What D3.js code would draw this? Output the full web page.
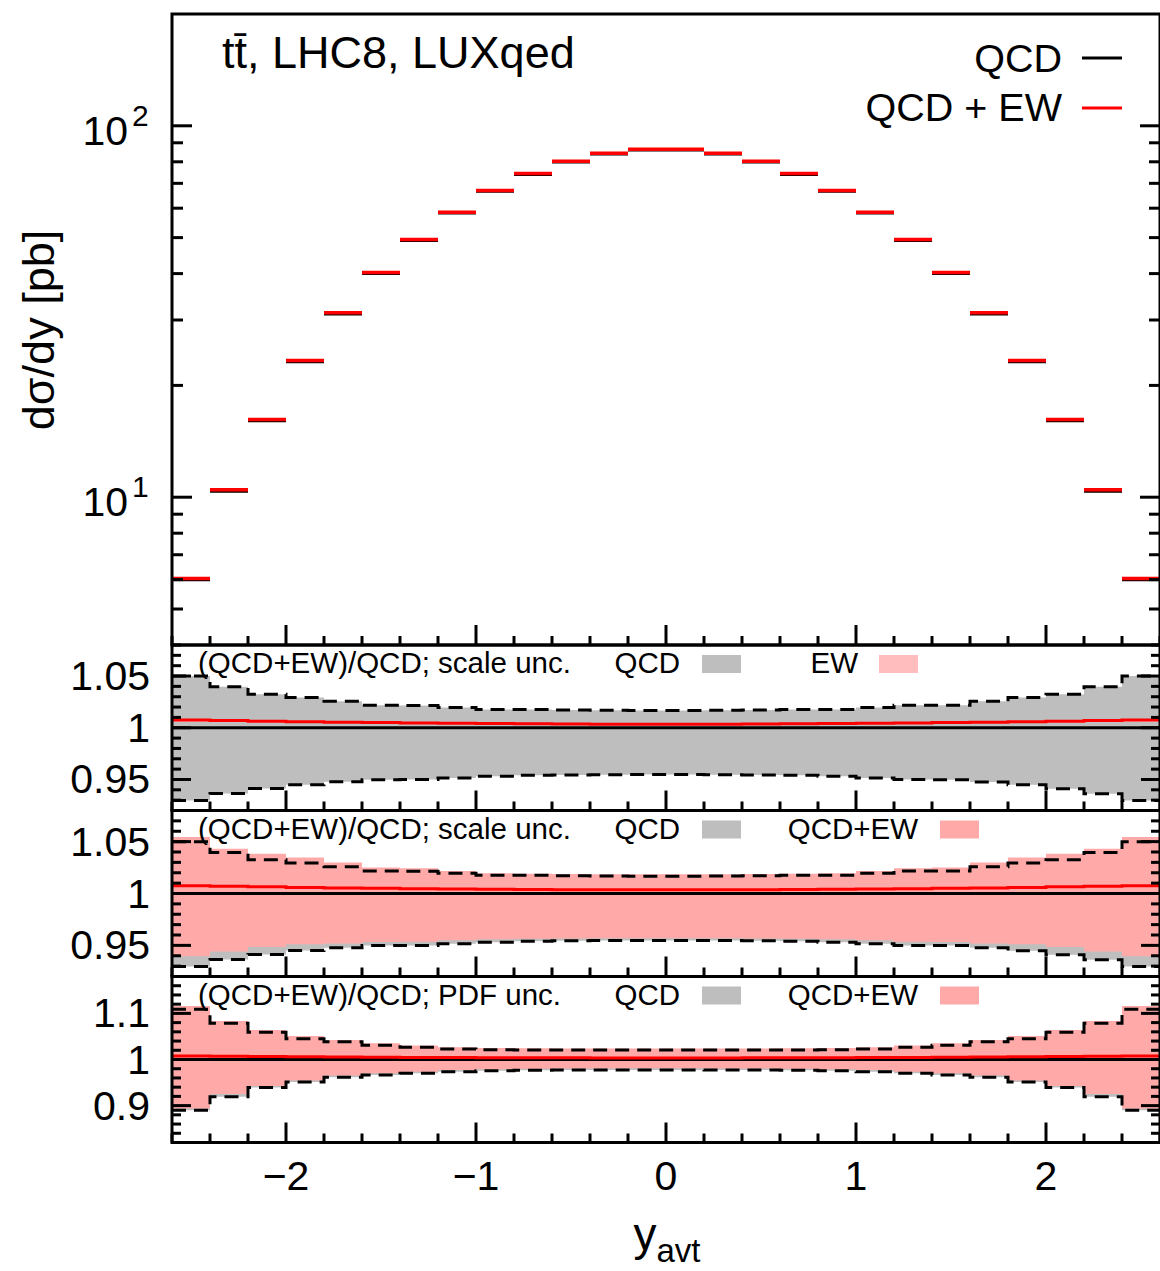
<!DOCTYPE html>
<html>
<head>
<meta charset="utf-8">
<script src="https://cdn.jsdelivr.net/npm/d3@7"></script>
<style>
  body { margin: 0; background: #fff; }
  svg text { font-family: "Liberation Sans", Arial, sans-serif; fill: #000; }
</style>
</head>
<body>
<div id="chart"></div>
<script>
// bin edges in y_avt
const binEdges = [-2.6, -2.4, -2.2, -2.0, -1.8, -1.6, -1.4, -1.2, -1.0, -0.8, -0.6, -0.4, -0.2,
                  0.0, 0.2, 0.4, 0.6, 0.8, 1.0, 1.2, 1.4, 1.6, 1.8, 2.0, 2.2, 2.4, 2.6]

// d sigma / dy [pb]
const qcd   = [6.0, 10.4, 16.1, 23.2, 31.2, 40.1, 49.2, 58.3, 66.7, 74.1, 80.0, 84.1, 86.2,
               86.2, 84.1, 80.0, 74.1, 66.7, 58.3, 49.2, 40.1, 31.2, 23.2, 16.1, 10.4, 6.0]
const qcdEw = [6.04, 10.47, 16.2, 23.34, 31.37, 40.3, 49.43, 58.55, 66.97, 74.38, 80.29, 84.39, 86.5,
               86.5, 84.39, 80.29, 74.38, 66.97, 58.55, 49.43, 40.3, 31.37, 23.34, 16.2, 10.47, 6.04]

// (QCD+EW)/QCD central ratio
const ratioEw = [1.0074, 1.0069, 1.0064, 1.0059, 1.0054, 1.005, 1.0046, 1.0043, 1.004, 1.0038, 1.0036, 1.0035, 1.0035,
                 1.0035, 1.0035, 1.0036, 1.0038, 1.004, 1.0043, 1.0046, 1.005, 1.0054, 1.0059, 1.0064, 1.0069, 1.0074]

// scale uncertainty, QCD (dashed envelope)
const scaleQcdUp = [1.050, 1.0396, 1.0325, 1.0293, 1.0257, 1.0218, 1.0214, 1.0196, 1.0177, 1.0177, 1.0172, 1.0168, 1.0166,
                    1.0166, 1.0168, 1.0172, 1.0177, 1.0177, 1.0196, 1.0218, 1.0218, 1.0257, 1.0293, 1.0325, 1.0396, 1.050]
const scaleQcdDn = [0.9297, 0.9365, 0.9413, 0.945, 0.9478, 0.9498, 0.950, 0.9515, 0.953, 0.954, 0.9544, 0.9546, 0.9547,
                    0.9547, 0.9546, 0.9544, 0.954, 0.953, 0.9515, 0.950, 0.9498, 0.9476, 0.9449, 0.941, 0.9362, 0.9297]
// scale uncertainty, EW only (panel 1)
const scaleEwUp = [1.0085, 1.008, 1.0074, 1.0068, 1.0062, 1.0057, 1.0052, 1.0049, 1.0046, 1.0044, 1.0042, 1.0041, 1.0041,
                   1.0041, 1.0041, 1.0042, 1.0044, 1.0046, 1.0049, 1.0052, 1.0057, 1.0062, 1.0068, 1.0074, 1.008, 1.0085]
const scaleEwDn = [1.0055, 1.0052, 1.0049, 1.0046, 1.0043, 1.004, 1.0037, 1.0035, 1.0033, 1.0032, 1.0031, 1.003, 1.003,
                   1.003, 1.003, 1.0031, 1.0032, 1.0033, 1.0035, 1.0037, 1.004, 1.0043, 1.0046, 1.0049, 1.0052, 1.0055]
// scale uncertainty, QCD+EW (panel 2)
const scaleQcdEwUp = [1.0545, 1.0432, 1.0383, 1.0347, 1.0299, 1.025, 1.0244, 1.0218, 1.0195, 1.019, 1.0188, 1.0186, 1.0185,
                      1.0185, 1.0186, 1.0188, 1.019, 1.0195, 1.0218, 1.0244, 1.025, 1.0299, 1.0347, 1.0383, 1.0432, 1.0545]
const scaleQcdEwDn = [0.9395, 0.944, 0.9484, 0.951, 0.9517, 0.9533, 0.9535, 0.955, 0.956, 0.9565, 0.9567, 0.9568, 0.9568,
                      0.9568, 0.9568, 0.9567, 0.9565, 0.956, 0.955, 0.9535, 0.9533, 0.9517, 0.951, 0.9484, 0.944, 0.9395]

// PDF uncertainty
const pdfQcdUp = [1.109, 1.0785, 1.059, 1.0448, 1.0386, 1.031, 1.0265, 1.0228, 1.021, 1.0206, 1.0205, 1.0204, 1.0204,
                  1.0204, 1.0204, 1.0205, 1.0206, 1.021, 1.0228, 1.0265, 1.031, 1.0386, 1.0448, 1.059, 1.0785, 1.109]
const pdfQcdDn = [0.8897, 0.919, 0.9395, 0.9512, 0.9614, 0.9664, 0.970, 0.9736, 0.9755, 0.9765, 0.977, 0.9772, 0.9773,
                  0.9773, 0.9772, 0.977, 0.9765, 0.9755, 0.9736, 0.970, 0.9664, 0.9614, 0.9512, 0.9395, 0.919, 0.8897]
const pdfQcdEwUp = [1.116, 1.0835, 1.064, 1.051, 1.0425, 1.035, 1.0305, 1.0265, 1.0248, 1.0243, 1.0241, 1.024, 1.024,
                    1.024, 1.024, 1.0241, 1.0243, 1.0248, 1.0265, 1.0305, 1.035, 1.0425, 1.051, 1.064, 1.0835, 1.116]
const pdfQcdEwDn = [0.894, 0.925, 0.9425, 0.9545, 0.9655, 0.970, 0.9735, 0.977, 0.979, 0.980, 0.9805, 0.9807, 0.9808,
                    0.9808, 0.9807, 0.9805, 0.980, 0.979, 0.977, 0.9735, 0.970, 0.9655, 0.9545, 0.9425, 0.925, 0.894]

const xMajor = [-2, -1, 0, 1, 2]
const xMajorLabels = ["\u22122", "\u22121", "0", "1", "2"]

const width = 1160, height = 1271
const left = 172, right = 1160
const grey = "#bebebe", pink = "#ffa9a9", ewPink = "#ffbdbd"

const svg = d3.select("#chart").append("svg")
  .attr("width", width).attr("height", height)

const x = d3.scaleLinear().domain([-2.6, 2.6]).range([left, right])

// ---------- main panel ----------
const mainTop = 14, mainBot = 645
const yMain = d3.scaleLog().domain([4, 200]).range([mainBot, mainTop])

const mainG = svg.append("g")
qcd.forEach((v, i) => {
  mainG.append("line")
    .attr("x1", x(binEdges[i])).attr("x2", x(binEdges[i + 1]))
    .attr("y1", yMain(v)).attr("y2", yMain(v))
    .attr("stroke", "#000").attr("stroke-width", 3.5)
})
qcdEw.forEach((v, i) => {
  mainG.append("line")
    .attr("x1", x(binEdges[i])).attr("x2", x(binEdges[i + 1]))
    .attr("y1", yMain(v)).attr("y2", yMain(v))
    .attr("stroke", "#ff0000").attr("stroke-width", 3.5)
})

// log ticks on both sides
const logMajor = [10, 100]
const logMinor = [5, 6, 7, 8, 9, 20, 30, 40, 50, 60, 70, 80, 90]
function yTicks(g, scale, majors, minors, majLen, minLen) {
  majors.forEach(v => {
    g.append("line").attr("x1", left).attr("x2", left + majLen).attr("y1", scale(v)).attr("y2", scale(v))
      .attr("stroke", "#000").attr("stroke-width", 3)
    g.append("line").attr("x1", right - majLen).attr("x2", right).attr("y1", scale(v)).attr("y2", scale(v))
      .attr("stroke", "#000").attr("stroke-width", 3)
  })
  minors.forEach(v => {
    g.append("line").attr("x1", left).attr("x2", left + minLen).attr("y1", scale(v)).attr("y2", scale(v))
      .attr("stroke", "#000").attr("stroke-width", 3)
    g.append("line").attr("x1", right - minLen).attr("x2", right).attr("y1", scale(v)).attr("y2", scale(v))
      .attr("stroke", "#000").attr("stroke-width", 3)
  })
}
function xTicks(g, yBottom) {
  x.ticks(26).forEach(v => {
    const isMajor = xMajor.some(m => Math.abs(m - v) < 1e-6)
    g.append("line").attr("x1", x(v)).attr("x2", x(v))
      .attr("y1", yBottom).attr("y2", yBottom - (isMajor ? 20 : 9))
      .attr("stroke", "#000").attr("stroke-width", 3)
  })
}
yTicks(mainG, yMain, logMajor, logMinor, 20, 11)
xTicks(mainG, mainBot)

// log labels 10^1, 10^2
logMajor.forEach(v => {
  mainG.append("text").attr("x", 128).attr("y", yMain(v) + 19).attr("text-anchor", "end")
    .attr("font-size", 41).text("10")
  mainG.append("text").attr("x", 132).attr("y", yMain(v)).attr("font-size", 30)
    .text(String(Math.round(Math.log10(v))))
})

mainG.append("rect").attr("x", left).attr("y", mainTop)
  .attr("width", right - left).attr("height", mainBot - mainTop)
  .attr("fill", "none").attr("stroke", "#000").attr("stroke-width", 3)

// title and legend
svg.append("text").attr("x", 222).attr("y", 68).attr("font-size", 45)
  .text("tt\u0304, LHC8, LUXqed")
svg.append("text").attr("x", 1062).attr("y", 72).attr("text-anchor", "end").attr("font-size", 39.5).text("QCD")
svg.append("line").attr("x1", 1082).attr("x2", 1122).attr("y1", 58).attr("y2", 58)
  .attr("stroke", "#000").attr("stroke-width", 3)
svg.append("text").attr("x", 1062).attr("y", 121).attr("text-anchor", "end").attr("font-size", 39.5).text("QCD + EW")
svg.append("line").attr("x1", 1082).attr("x2", 1122).attr("y1", 108).attr("y2", 108)
  .attr("stroke", "#ff0000").attr("stroke-width", 3)

// y axis title
svg.append("text").attr("transform", "translate(54,330) rotate(-90)")
  .attr("text-anchor", "middle").attr("font-size", 45).text("d\u03c3/dy [pb]")

// ---------- ratio panels ----------
function stepPts(vals) {
  return binEdges.map((e, i) => ({ x: e, v: vals[Math.min(i, vals.length - 1)] }))
}
function bandPts(up, dn) {
  return binEdges.map((e, i) => ({ x: e, hi: up[Math.min(i, up.length - 1)], lo: dn[Math.min(i, dn.length - 1)] }))
}

const panels = [
  { top: 645, bot: 810.5, domain: [0.92, 1.08], majors: [0.95, 1, 1.05], labels: ["0.95", "1", "1.05"], nMinor: 16,
    label: "(QCD+EW)/QCD; scale unc.",
    bands: [{ up: scaleQcdUp, dn: scaleQcdDn, color: grey }, { up: scaleEwUp, dn: scaleEwDn, color: ewPink }],
    dashUp: scaleQcdUp, dashDn: scaleQcdDn,
    legend: [{ text: "QCD", tx: 680, bx: 702, color: grey }, { text: "EW", tx: 858, bx: 879, color: ewPink }] },
  { top: 810.5, bot: 976.5, domain: [0.92, 1.08], majors: [0.95, 1, 1.05], labels: ["0.95", "1", "1.05"], nMinor: 16,
    label: "(QCD+EW)/QCD; scale unc.",
    bands: [{ up: scaleQcdUp, dn: scaleQcdDn, color: grey }, { up: scaleQcdEwUp, dn: scaleQcdEwDn, color: pink }],
    dashUp: scaleQcdUp, dashDn: scaleQcdDn,
    legend: [{ text: "QCD", tx: 680, bx: 702, color: grey }, { text: "QCD+EW", tx: 918, bx: 940, color: pink }] },
  { top: 976.5, bot: 1142.5, domain: [0.82, 1.18], majors: [0.9, 1, 1.1], labels: ["0.9", "1", "1.1"], nMinor: 18,
    label: "(QCD+EW)/QCD; PDF unc.",
    bands: [{ up: pdfQcdUp, dn: pdfQcdDn, color: grey }, { up: pdfQcdEwUp, dn: pdfQcdEwDn, color: pink }],
    dashUp: pdfQcdUp, dashDn: pdfQcdDn,
    legend: [{ text: "QCD", tx: 680, bx: 702, color: grey }, { text: "QCD+EW", tx: 918, bx: 940, color: pink }] }
]

panels.forEach((p, k) => {
  const y = d3.scaleLinear().domain(p.domain).range([p.bot, p.top])
  const g = svg.append("g")
  const clipId = "clip" + k
  svg.append("clipPath").attr("id", clipId).append("rect")
    .attr("x", left).attr("y", p.top).attr("width", right - left).attr("height", p.bot - p.top)
  const inner = g.append("g").attr("clip-path", `url(#${clipId})`)

  const area = d3.area().curve(d3.curveStepAfter)
    .x(d => x(d.x)).y0(d => y(d.lo)).y1(d => y(d.hi))
  p.bands.forEach(b => {
    inner.append("path").datum(bandPts(b.up, b.dn)).attr("d", area).attr("fill", b.color)
  })

  const line = d3.line().curve(d3.curveStepAfter).x(d => x(d.x)).y(d => y(d.v))
  ;[p.dashUp, p.dashDn].forEach(vals => {
    inner.append("path").datum(stepPts(vals)).attr("d", line)
      .attr("fill", "none").attr("stroke", "#000").attr("stroke-width", 3)
      .attr("stroke-dasharray", "14,8")
  })
  inner.append("line").attr("x1", left).attr("x2", right).attr("y1", y(1)).attr("y2", y(1))
    .attr("stroke", "#000").attr("stroke-width", 3)
  inner.append("path").datum(stepPts(ratioEw)).attr("d", line)
    .attr("fill", "none").attr("stroke", "#ff0000").attr("stroke-width", 3)

  // ticks
  const minors = y.ticks(p.nMinor).filter(v => !p.majors.some(m => Math.abs(m - v) < 1e-6))
  yTicks(g, y, p.majors, minors, 19, 9)
  xTicks(g, p.bot)

  p.majors.forEach((v, i) => {
    g.append("text").attr("x", 150).attr("y", y(v) + 14).attr("text-anchor", "end")
      .attr("font-size", 41).text(p.labels[i])
  })

  // panel label and legend
  const base = p.top + 28
  g.append("text").attr("x", 198).attr("y", base).attr("font-size", 29.5).text(p.label)
  p.legend.forEach(l => {
    g.append("text").attr("x", l.tx).attr("y", base).attr("text-anchor", "end")
      .attr("font-size", 29.5).text(l.text)
    g.append("rect").attr("x", l.bx).attr("y", base - 18).attr("width", 39).attr("height", 18)
      .attr("fill", l.color)
  })

  g.append("rect").attr("x", left).attr("y", p.top)
    .attr("width", right - left).attr("height", p.bot - p.top)
    .attr("fill", "none").attr("stroke", "#000").attr("stroke-width", 3)
})

// x tick labels
xMajor.forEach((v, i) => {
  svg.append("text").attr("x", x(v)).attr("y", 1190).attr("text-anchor", "middle")
    .attr("font-size", 41).text(xMajorLabels[i])
})

// x axis title
const xt = svg.append("text").attr("x", 667).attr("y", 1250).attr("text-anchor", "middle").attr("font-size", 46)
xt.append("tspan").text("y")
xt.append("tspan").attr("font-size", 33).attr("dy", 12).text("avt")
</script>
</body>
</html>
